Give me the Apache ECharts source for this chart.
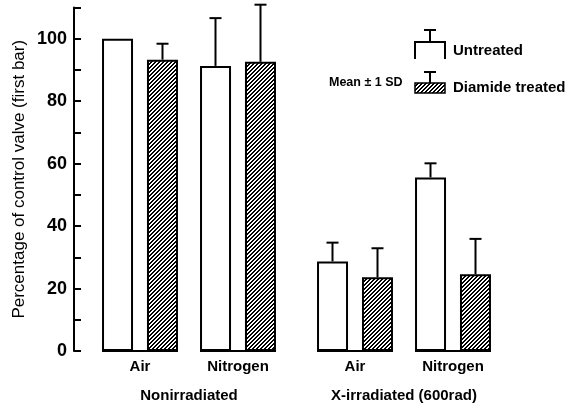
<!DOCTYPE html>
<html>
<head>
<meta charset="utf-8">
<script src="https://cdn.jsdelivr.net/npm/echarts@6/dist/echarts.min.js"></script>
<style>
html,body{margin:0;padding:0;background:#fff;}
#c{width:566px;height:408px;}
</style>
</head>
<body>
<div id="c"></div>
<script>
// ---- data ----
const categories = ['Air', 'Nitrogen'];
const groupNames = ['Nonirradiated', 'X-irradiated (600rad)'];
const seriesNames = ['Untreated', 'Diamide treated'];
const untreatedNonirr = [100, 91.3];
const untreatedNonirrSD = [null, 15.3];
const diamideNonirr = [93.3, 92.6];
const diamideNonirrSD = [5.1, 18.3];
const untreatedXirr = [28.7, 55.6];
const untreatedXirrSD = [6, 4.5];
const diamideXirr = [23.6, 24.6];
const diamideXirrSD = [9.3, 11.3];
const yLabelValues = [0, 20, 40, 60, 80, 100];
const yTitle = 'Percentage of control valve (first bar)';
const sdLabel = 'Mean \u00b1 1 SD';

// ---- style ----
const SANS = "'Liberation Sans', Arial, sans-serif";
const BAR_W = 31;
const BAR_OFF = 22.5;

function makeHatch() {
  const s = 4;
  const c = document.createElement('canvas');
  c.width = s; c.height = s;
  const g = c.getContext('2d');
  g.fillStyle = '#fff';
  g.fillRect(0, 0, s, s);
  g.fillStyle = '#000';
  for (let x = 0; x < s; x++) {
    for (let y = 0; y < s; y++) {
      if ((x + y) % 4 < 2) g.fillRect(x, y, 1, 1);
    }
  }
  return c;
}
const hatch = { image: makeHatch(), repeat: 'repeat' };

const chart = echarts.init(document.getElementById('c'), null, { renderer: 'canvas' });

function errData(means, sds) {
  return means.map((m, i) => [i, m, sds[i] == null ? 0 : sds[i]]);
}
function errRender(offset) {
  return function (params, api) {
    const sd = api.value(2);
    if (!sd) return null;
    const cat = api.value(0);
    const m = api.value(1);
    const p0 = api.coord([cat, m]);
    const p1 = api.coord([cat, m + sd]);
    const x = p0[0] + offset;
    return {
      type: 'group',
      children: [
        { type: 'line', shape: { x1: x, y1: p0[1], x2: x, y2: p1[1] }, style: { stroke: '#000', lineWidth: 2 } },
        { type: 'line', shape: { x1: x - 6, y1: p1[1], x2: x + 6, y2: p1[1] }, style: { stroke: '#000', lineWidth: 2 } }
      ]
    };
  };
}
function baseRender(params, api) {
  const p = api.coord([api.value(0), 0]);
  const half = BAR_OFF + BAR_W / 2;
  return { type: 'line', shape: { x1: p[0] - half, y1: p[1], x2: p[0] + half, y2: p[1] }, style: { stroke: '#000', lineWidth: 2 } };
}

function xAxisFor(gi) {
  return {
    type: 'category', gridIndex: gi, data: categories,
    axisLine: { show: false }, axisTick: { show: false },
    axisLabel: { color: '#000', fontFamily: SANS, fontWeight: 'bold', fontSize: 15, margin: 8, interval: 0 },
    name: groupNames[gi], nameLocation: 'middle', nameGap: 37,
    nameTextStyle: { color: '#000', fontFamily: SANS, fontWeight: 'bold', fontSize: 15 }
  };
}
function yAxisFor(gi) {
  const show = gi === 0;
  return {
    type: 'value', gridIndex: gi, min: 0, max: 110, interval: 10, offset: 17, show: show,
    axisLine: { show: show, lineStyle: { color: '#000', width: 2 } },
    axisTick: { show: show, inside: true, length: 7, lineStyle: { color: '#000', width: 2 } },
    splitLine: { show: false },
    axisLabel: {
      show: show, color: '#000', fontFamily: SANS, fontWeight: 'bold', fontSize: 18, margin: 7,
      formatter: v => (yLabelValues.indexOf(v) >= 0 ? String(v) : '')
    },
    name: show ? yTitle : '', nameLocation: 'middle', nameGap: 46, nameRotate: 90,
    nameTextStyle: { color: '#000', fontFamily: SANS, fontSize: 17 }
  };
}
function barSeries(name, gi, values, hatched) {
  return {
    type: 'bar', name: name, xAxisIndex: gi, yAxisIndex: gi, data: values,
    barWidth: BAR_W, barGap: '45%',
    itemStyle: { color: hatched ? hatch : '#fff', borderColor: '#000', borderWidth: 2 },
    emphasis: { disabled: true }, z: 2
  };
}
function errSeries(gi, means, sds, offset) {
  return {
    type: 'custom', xAxisIndex: gi, yAxisIndex: gi, data: errData(means, sds),
    renderItem: errRender(offset), z: 3, clip: false, silent: true
  };
}
function baseSeries(gi) {
  return {
    type: 'custom', xAxisIndex: gi, yAxisIndex: gi, data: categories.map((c, i) => [i, 0]),
    renderItem: baseRender, z: 4, silent: true
  };
}

const lx = 415, lw = 30;
const legendGraphics = [
  { type: 'polyline', shape: { points: [[lx, 59], [lx, 42], [lx + lw, 42], [lx + lw, 59]] }, style: { stroke: '#000', lineWidth: 2, fill: null } },
  { type: 'line', shape: { x1: lx + lw / 2, y1: 42, x2: lx + lw / 2, y2: 30 }, style: { stroke: '#000', lineWidth: 2 } },
  { type: 'line', shape: { x1: lx + lw / 2 - 6, y1: 30, x2: lx + lw / 2 + 6, y2: 30 }, style: { stroke: '#000', lineWidth: 2 } },
  { type: 'rect', shape: { x: lx, y: 83, width: lw, height: 10 }, style: { fill: hatch, stroke: '#000', lineWidth: 1.5 } },
  { type: 'line', shape: { x1: lx + lw / 2, y1: 83, x2: lx + lw / 2, y2: 72 }, style: { stroke: '#000', lineWidth: 2 } },
  { type: 'line', shape: { x1: lx + lw / 2 - 6, y1: 72, x2: lx + lw / 2 + 6, y2: 72 }, style: { stroke: '#000', lineWidth: 2 } },
  { type: 'text', x: 453, y: 51, style: { text: seriesNames[0], fill: '#000', font: 'bold 15px ' + SANS, verticalAlign: 'middle', align: 'left' } },
  { type: 'text', x: 453, y: 88, style: { text: seriesNames[1], fill: '#000', font: 'bold 15px ' + SANS, verticalAlign: 'middle', align: 'left' } },
  { type: 'text', x: 329, y: 83, style: { text: sdLabel, fill: '#000', font: 'bold 12.5px ' + SANS, verticalAlign: 'middle', align: 'left' } }
];

chart.setOption({
  animation: false,
  backgroundColor: '#fff',
  grid: [
    { left: 91, width: 196, top: 7.5, bottom: 53 },
    { left: 306, width: 196, top: 7.5, bottom: 53 }
  ],
  xAxis: [xAxisFor(0), xAxisFor(1)],
  yAxis: [yAxisFor(0), yAxisFor(1)],
  graphic: legendGraphics,
  series: [
    barSeries(seriesNames[0], 0, untreatedNonirr, false),
    barSeries(seriesNames[1], 0, diamideNonirr, true),
    barSeries(seriesNames[0], 1, untreatedXirr, false),
    barSeries(seriesNames[1], 1, diamideXirr, true),
    errSeries(0, untreatedNonirr, untreatedNonirrSD, -BAR_OFF),
    errSeries(0, diamideNonirr, diamideNonirrSD, BAR_OFF),
    errSeries(1, untreatedXirr, untreatedXirrSD, -BAR_OFF),
    errSeries(1, diamideXirr, diamideXirrSD, BAR_OFF),
    baseSeries(0),
    baseSeries(1)
  ]
});
</script>
</body>
</html>
